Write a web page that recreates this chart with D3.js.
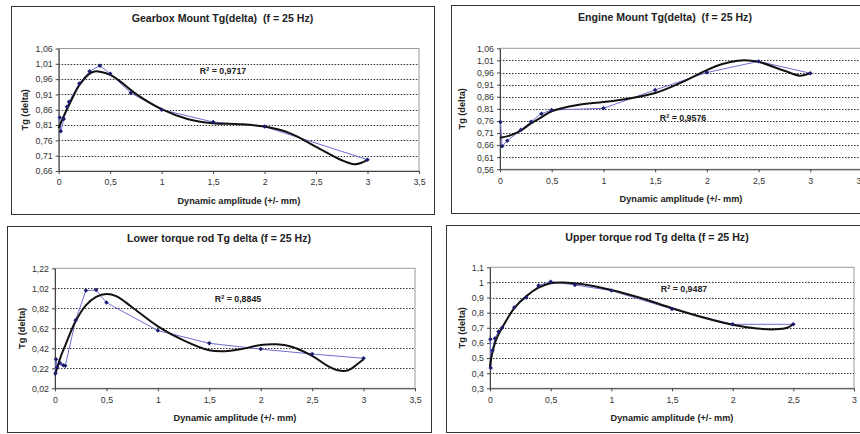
<!DOCTYPE html>
<html>
<head>
<meta charset="utf-8">
<script src="https://cdn.jsdelivr.net/npm/d3@7"></script>
<style>
  body { margin: 0; background: #fff; }
  svg { display: block; font-family: Arial, "Liberation Sans", sans-serif; }
  .box { fill: #fff; stroke: #333; stroke-width: 1; }
  .plot-frame { fill: #fff; stroke: #9a9a9a; stroke-width: 1; }
  .grid line { stroke: #333; stroke-width: 1; stroke-dasharray: 1.5,1.5; }
  .axis path, .axis line { stroke: #444; stroke-width: 1; }
  .axis text { font-size: 8.8px; fill: #333; }
  .ttl { font-size: 10.6px; font-weight: bold; fill: #222; text-anchor: middle; white-space: pre; }
  .ax-ttl { font-size: 9.2px; font-weight: bold; fill: #222; text-anchor: middle; }
  .r2 { font-size: 8.8px; font-weight: bold; fill: #222; text-anchor: middle; }
  .raw { fill: none; stroke: #6f6fd2; stroke-width: 1; }
  .trend { fill: none; stroke: #111; stroke-width: 2; }
  .mk { fill: #1c1c70; }
</style>
</head>
<body>
<svg id="chart" width="860" height="434"></svg>
<script>
// ── 測定値 (青線 + マーカー) と 近似曲線 (黒線) ──
const gearboxX = [0.01, 0.02, 0.05, 0.08, 0.1, 0.2, 0.3, 0.4, 0.5, 0.7, 1.0, 1.5, 2.0, 3.0];
const gearboxY = [0.835, 0.79, 0.83, 0.87, 0.886, 0.946, 0.986, 1.004, 0.978, 0.915, 0.86, 0.82, 0.805, 0.697];
const gearboxTrendX = [0, 0.05, 0.1, 0.15, 0.2, 0.3, 0.35, 0.4, 0.5, 0.6, 0.75, 1.0, 1.25, 1.5, 1.75, 2.0, 2.25, 2.5, 2.75, 2.87, 2.95, 3.0];
const gearboxTrendY = [0.80, 0.84, 0.875, 0.91, 0.94, 0.978, 0.985, 0.984, 0.974, 0.952, 0.912, 0.862, 0.83, 0.816, 0.813, 0.805, 0.783, 0.739, 0.695, 0.682, 0.688, 0.697];
const gearboxYTicks = [0.66, 0.71, 0.76, 0.81, 0.86, 0.91, 0.96, 1.01, 1.06];

const engineX = [0.005, 0.02, 0.07, 0.2, 0.3, 0.4, 0.5, 1.0, 1.5, 2.0, 2.5, 3.0];
const engineY = [0.755, 0.655, 0.678, 0.722, 0.757, 0.79, 0.805, 0.812, 0.888, 0.96, 1.006, 0.957];
const engineTrendX = [0, 0.1, 0.2, 0.3, 0.4, 0.5, 0.75, 1.0, 1.25, 1.5, 1.75, 2.0, 2.15, 2.3, 2.4, 2.5, 2.75, 2.9, 3.0];
const engineTrendY = [0.69, 0.70, 0.72, 0.75, 0.775, 0.80, 0.826, 0.838, 0.853, 0.875, 0.918, 0.97, 0.995, 1.009, 1.01, 1.004, 0.967, 0.947, 0.957];
const engineYTicks = [0.56, 0.61, 0.66, 0.71, 0.76, 0.81, 0.86, 0.91, 0.96, 1.01, 1.06];

const lowerX = [0.005, 0.01, 0.02, 0.05, 0.08, 0.1, 0.2, 0.3, 0.4, 0.5, 1.0, 1.5, 2.0, 2.5, 3.0];
const lowerY = [0.17, 0.31, 0.23, 0.27, 0.25, 0.245, 0.70, 0.997, 1.003, 0.877, 0.597, 0.47, 0.412, 0.363, 0.32];
const lowerTrendX = [0, 0.05, 0.1, 0.2, 0.3, 0.4, 0.5, 0.6, 0.75, 1.0, 1.25, 1.5, 1.65, 1.8, 2.0, 2.15, 2.3, 2.5, 2.65, 2.75, 2.85, 2.95, 3.0];
const lowerTrendY = [0.15, 0.32, 0.45, 0.69, 0.85, 0.935, 0.964, 0.94, 0.83, 0.64, 0.50, 0.40, 0.39, 0.41, 0.453, 0.46, 0.436, 0.345, 0.245, 0.20, 0.20, 0.27, 0.31];
const lowerYTicks = [0.02, 0.22, 0.42, 0.62, 0.82, 1.02, 1.22];

const upperX = [0.003, 0.006, 0.02, 0.04, 0.07, 0.1, 0.2, 0.3, 0.4, 0.5, 0.7, 1.0, 1.5, 2.0, 2.5];
const upperY = [0.625, 0.435, 0.55, 0.63, 0.675, 0.70, 0.835, 0.90, 0.98, 1.005, 0.983, 0.946, 0.824, 0.723, 0.723];
const upperTrendX = [0, 0.01, 0.05, 0.1, 0.2, 0.3, 0.4, 0.5, 0.6, 0.75, 1.0, 1.25, 1.5, 1.75, 2.0, 2.2, 2.35, 2.45, 2.5];
const upperTrendY = [0.44, 0.50, 0.62, 0.70, 0.83, 0.91, 0.965, 0.995, 1.0, 0.99, 0.95, 0.895, 0.83, 0.77, 0.72, 0.695, 0.69, 0.70, 0.725];
const upperYTicks = [0.3, 0.4, 0.5, 0.6, 0.7, 0.8, 0.9, 1.0, 1.1];

const xTicks35 = [0, 0.5, 1, 1.5, 2, 2.5, 3, 3.5];
const xTicks30 = [0, 0.5, 1, 1.5, 2, 2.5, 3];

const titles = [
  'Gearbox Mount Tg(delta)  (f = 25 Hz)',
  'Engine Mount Tg(delta)  (f = 25 Hz)',
  'Lower torque rod Tg delta (f = 25 Hz)',
  'Upper torque rod Tg delta (f = 25 Hz)'
];
const r2Values = ['0,9717', '0,9576', '0,8845', '0,9487'];
const xTitle = 'Dynamic amplitude (+/- mm)';
const yTitle = 'Tg (delta)';

// 小数点はカンマ表記
const loc = d3.formatLocale({ decimal: ',', thousands: '.', grouping: [3], currency: ['', ''] });

// ── レイアウト (パネル枠・プロット領域) ──
const panels = [
  { box: [11, 6, 434, 214],  plot: [58.7, 48.5, 419, 171],  xMax: 3.5, xTicks: xTicks35, yTicks: gearboxYTicks, yFmt: loc.format('.2f'),
    x: gearboxX, y: gearboxY, tx: gearboxTrendX, ty: gearboxTrendY, title: titles[0], r2: r2Values[0], r2Pos: [223, 74], ytX: 25 },
  { box: [451, 5, 879, 213], plot: [500, 48.3, 862, 169.3], xMax: 3.5, xTicks: xTicks35, yTicks: engineYTicks, yFmt: loc.format('.2f'),
    x: engineX, y: engineY, tx: engineTrendX, ty: engineTrendY, title: titles[1], r2: r2Values[1], r2Pos: [683, 121], ytX: 462 },
  { box: [7, 226, 431, 432], plot: [55, 268.3, 415, 388.3], xMax: 3.5, xTicks: xTicks35, yTicks: lowerYTicks, yFmt: loc.format('.2f'),
    x: lowerX, y: lowerY, tx: lowerTrendX, ty: lowerTrendY, title: titles[2], r2: r2Values[2], r2Pos: [238, 302], ytX: 22 },
  { box: [446, 225, 868, 432], plot: [490, 267.3, 854, 388.3], xMax: 3, xTicks: xTicks30, yTicks: upperYTicks, yFmt: loc.format('~g'),
    x: upperX, y: upperY, tx: upperTrendX, ty: upperTrendY, title: titles[3], r2: r2Values[3], r2Pos: [684, 292], ytX: 462 }
];

const svg = d3.select('#chart');

panels.forEach(p => {
  const [bx0, by0, bx1, by1] = p.box;
  const [pl, pt, pr, pb] = p.plot;
  const g = svg.append('g');

  g.append('rect').attr('class', 'box')
    .attr('x', bx0 + 0.5).attr('y', by0 + 0.5)
    .attr('width', bx1 - bx0).attr('height', by1 - by0);

  const xs = d3.scaleLinear().domain([0, p.xMax]).range([pl, pr]);
  const ys = d3.scaleLinear().domain(d3.extent(p.yTicks)).range([pb, pt]);

  g.append('rect').attr('class', 'plot-frame')
    .attr('x', pl).attr('y', pt).attr('width', pr - pl).attr('height', pb - pt);

  // 点線グリッド（上端・下端を除く）
  g.append('g').attr('class', 'grid')
    .selectAll('line').data(p.yTicks.slice(1, -1)).enter().append('line')
    .attr('x1', pl).attr('x2', pr)
    .attr('y1', d => Math.round(ys(d)) + 0.5).attr('y2', d => Math.round(ys(d)) + 0.5);

  g.append('g').attr('class', 'axis')
    .attr('transform', `translate(${pl},0)`)
    .call(d3.axisLeft(ys).tickValues(p.yTicks).tickFormat(p.yFmt).tickSizeInner(3).tickSizeOuter(0).tickPadding(3));

  g.append('g').attr('class', 'axis')
    .attr('transform', `translate(0,${pb})`)
    .call(d3.axisBottom(xs).tickValues(p.xTicks).tickFormat(loc.format('~g')).tickSizeInner(3).tickSizeOuter(0).tickPadding(5));

  // 測定値
  const pts = p.x.map((v, i) => [v, p.y[i]]);
  g.append('path').attr('class', 'raw')
    .attr('d', d3.line().x(d => xs(d[0])).y(d => ys(d[1]))(pts));

  // 近似曲線
  const tr = p.tx.map((v, i) => [v, p.ty[i]]);
  g.append('path').attr('class', 'trend')
    .attr('d', d3.line().curve(d3.curveCatmullRom.alpha(0.5)).x(d => xs(d[0])).y(d => ys(d[1]))(tr));

  g.selectAll('.mk').data(pts).enter().append('path').attr('class', 'mk')
    .attr('transform', d => `translate(${xs(d[0])},${ys(d[1])}) rotate(45)`)
    .attr('d', d3.symbol(d3.symbolSquare, 10));

  // テキスト
  g.append('text').attr('class', 'ttl')
    .attr('x', (bx0 + bx1) / 2).attr('y', by0 + 16).text(p.title);

  g.append('text').attr('class', 'ax-ttl')
    .attr('x', (pl + pr) / 2).attr('y', pb + 33).text(xTitle);

  g.append('text').attr('class', 'ax-ttl')
    .attr('transform', `translate(${p.ytX + 3},${(pt + pb) / 2}) rotate(-90)`).text(yTitle);

  const r2 = g.append('text').attr('class', 'r2').attr('x', p.r2Pos[0]).attr('y', p.r2Pos[1]);
  r2.append('tspan').text('R');
  r2.append('tspan').attr('font-size', '5.5px').attr('dy', -3.5).text('2');
  r2.append('tspan').attr('dy', 3.5).text(' = ' + p.r2);
});
</script>
</body>
</html>
